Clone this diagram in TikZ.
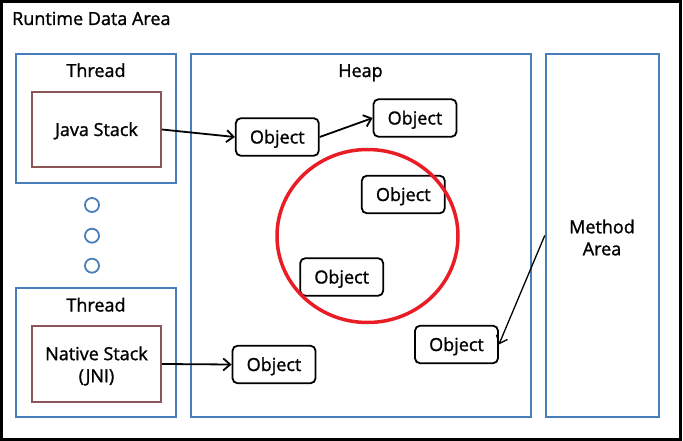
\documentclass[tikz,border=0pt]{standalone}
\usepackage{fontspec}
\setmainfont{Open Sans}[FakeBold=1.3]
\usetikzlibrary{arrows.meta,shapes.geometric}
\definecolor{boxblue}{HTML}{4A7EBB}
\definecolor{stackbrown}{HTML}{8C5558}
\definecolor{gcred}{HTML}{E81D25}
\begin{document}
\begin{tikzpicture}[x=1pt,y=-1pt,
  font=\fontsize{18}{22}\selectfont,
  frame/.style={draw=black, line width=2.2pt, minimum width=679pt, minimum height=438pt, inner sep=0pt},
  area/.style={draw=boxblue, line width=1.8pt, inner sep=0pt},
  stackbox/.style={draw=stackbrown, line width=1.8pt, minimum width=129pt, inner sep=0pt, align=center},
  dot/.style={draw=boxblue, line width=1.8pt, circle, minimum size=14pt, inner sep=0pt},
  obj/.style={draw=black, fill=white, line width=1.8pt, rounded corners=5pt, minimum width=83pt, minimum height=37.5pt, inner sep=0pt, text height=13pt, text depth=0pt},
  label/.style={inner sep=0pt, anchor=base},
  ptr/.style={line width=1.8pt, -{Straight Barb[length=7pt,width=12pt]}},
  gc/.style={draw=gcred, line width=3.5pt, ellipse, minimum width=181pt, minimum height=173pt, inner sep=0pt}
]
\useasboundingbox (0,0) rectangle (683,441);
% outer frame
\node[frame] (rda) at (341,220.5) {};
\node[label, anchor=base west] (rdalbl) at (12,25) {Runtime Data Area};
% threads
\node[area, minimum width=160pt, minimum height=129pt] (t1) at (96,118.5) {};
\node[label] (t1lbl) at (96,77) {Thread};
\node[stackbox, minimum height=75pt, text height=13pt, text depth=0pt] (js) at (96.5,129.5) {Java Stack};
\node[dot] (d1) at (92,205) {};
\node[dot] (d2) at (92,235.7) {};
\node[dot] (d3) at (92,265.7) {};
\node[area, minimum width=160pt, minimum height=129pt] (t2) at (96,352.5) {};
\node[label] (t2lbl) at (96,311.5) {Thread};
\node[stackbox, minimum height=76pt] (ns) at (96.5,364) {};
\node[inner sep=0pt, align=center] (nslbl) at (96.5,366) {Native Stack\\(JNI)};
% heap
\node[area, minimum width=339.7pt, minimum height=363pt] (heap) at (360.8,235.5) {};
\node[label] (heaplbl) at (360.5,77) {Heap};
% method area
\node[area, minimum width=113.3pt, minimum height=363pt] (ma) at (602.3,235.5) {};
\node[inner sep=0pt, align=center] (malbl) at (602,237.5) {Method\\Area};
% objects
\node[obj] (o1) at (277.3,137) {Object};
\node[obj] (o2) at (415,118) {Object};
\node[obj] (o3) at (403.3,194.5) {Object};
\node[obj] (o4) at (341.7,277) {Object};
\node[obj] (o5) at (456.5,344.5) {Object};
\node[obj] (o6) at (274,364.5) {Object};
% garbage ring
\node[gc] (ring) at (367.5,236) {};
% pointers
\draw[ptr] (js.east) -- (o1.west);
\draw[ptr] (o1.east) -- (o2.west);
\draw[ptr] (ns.east) -- (o6.west);
\draw[ptr, line width=1.3pt] (ma.west) -- (o5.east);
\end{tikzpicture}
\end{document}
